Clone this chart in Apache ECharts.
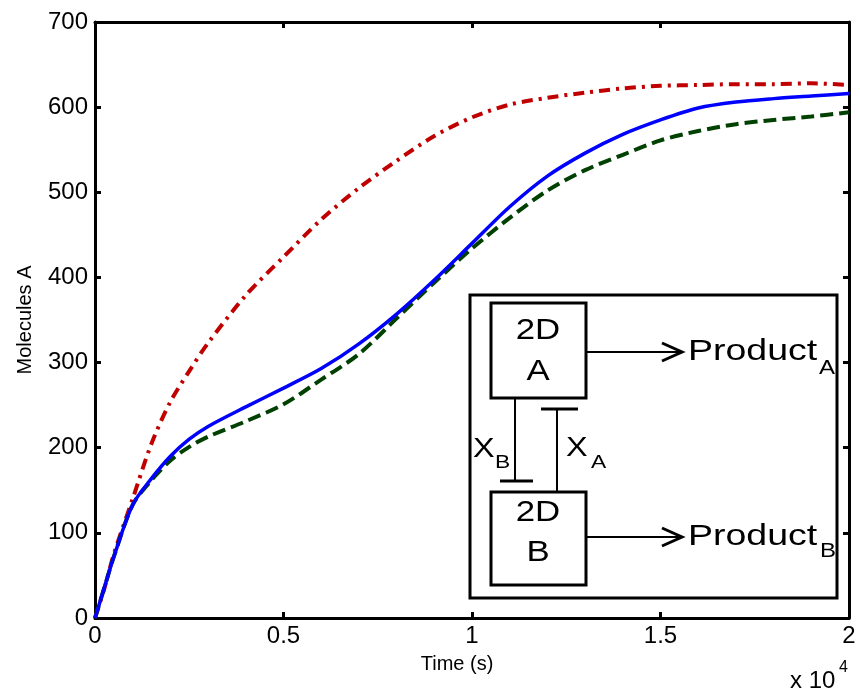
<!DOCTYPE html>
<html>
<head>
<meta charset="utf-8">
<script src="https://cdn.jsdelivr.net/npm/echarts@6/dist/echarts.min.js"></script>
<style>
  html, body { margin: 0; padding: 0; background: #fff; }
  #chart { width: 860px; height: 689px; }
</style>
</head>
<body>
<div id="chart"></div>
<script>
// time in seconds
const times = [0, 250, 500, 1000, 1500, 2000, 2500, 3000, 4000, 5000, 6000, 7000, 8000,
  9000, 10000, 11000, 12000, 13000, 14000, 15000, 16000, 17000, 18000, 19000, 20000];
const redVals = [0, 35, 75, 140, 205, 254, 290, 323, 379, 424, 468, 505, 537,
  566, 588, 603, 611, 617, 622, 625, 626, 627, 627, 628, 626];
const blueVals = [0, 36, 72, 133, 164, 190, 210, 225, 248, 270, 293, 322, 357,
  397, 440, 483, 519, 546, 568, 585, 599, 606, 610, 613, 616];
const greenVals = [0, 36, 72, 133, 162, 185, 201, 213, 231, 251, 280, 310, 352,
  394, 434, 470, 502, 526, 544, 561, 572, 580, 585, 589, 594];

const FONT = '"Liberation Sans", Arial, sans-serif';

function pairs(vals) {
  return times.map((t, i) => [t, vals[i]]);
}

const frameAxis = {
  axisLine: { show: true, onZero: false, lineStyle: { color: '#000', width: 3 } },
  axisTick: { show: true, inside: true, length: 6, lineStyle: { color: '#000', width: 3 } },
  splitLine: { show: false }
};

// inset diagram (glyphs in the inset are a bit wider than normal, hence scaleX)
function txt(x, y, s, size, align, sx) {
  return {
    type: 'text', x: x, y: y, z: 20, scaleX: sx || 1.2,
    style: { text: s, font: size + 'px ' + FONT, fill: '#000', align: align || 'center', verticalAlign: 'middle' }
  };
}
function seg(x1, y1, x2, y2, w) {
  return { type: 'line', z: 20, shape: { x1: x1, y1: y1, x2: x2, y2: y2 }, style: { stroke: '#000', lineWidth: w } };
}
function box(x, y, w, h, lw) {
  return { type: 'rect', z: 20, shape: { x: x, y: y, width: w, height: h }, style: { fill: '#fff', stroke: '#000', lineWidth: lw } };
}
function arrow(x1, x2, y) {
  return [
    seg(x1, y, x2, y, 2),
    { type: 'polyline', z: 20, shape: { points: [[x2 - 20, y - 9], [x2, y], [x2 - 20, y + 9]] }, style: { stroke: '#000', lineWidth: 3, fill: null } }
  ];
}

const inset = [
  box(470, 295, 367, 303, 3),
  box(491, 303, 95, 95, 3),
  box(491, 492, 95, 93, 3),
  txt(538, 331, '2D', 29), txt(538, 372, 'A', 29),
  txt(538, 513, '2D', 29), txt(538, 553, 'B', 29),
  ...arrow(586, 682, 352),
  ...arrow(586, 682, 537),
  txt(688, 352, 'Product', 30, 'left', 1.25),
  txt(819, 368, 'A', 20, 'left'),
  txt(688, 537, 'Product', 30, 'left', 1.25),
  txt(820, 551, 'B', 20, 'left'),
  // inhibition X_B : from A down to bar
  seg(515, 398, 515, 481, 2), seg(500, 481, 533, 481, 3),
  // inhibition X_A : from B up to bar
  seg(557, 492, 557, 409, 2), seg(541, 409, 578, 409, 3),
  txt(473, 450, 'X', 27, 'left'),
  txt(495, 463, 'B', 19, 'left'),
  txt(566, 449, 'X', 27, 'left'),
  txt(591, 463, 'A', 19, 'left'),
  // x 10^4
  { type: 'text', x: 790, y: 681, z: 20, style: { text: 'x 10', font: '24px ' + FONT, fill: '#000', align: 'left', verticalAlign: 'middle' } },
  { type: 'text', x: 839, y: 668, z: 20, style: { text: '4', font: '16px ' + FONT, fill: '#000', align: 'left', verticalAlign: 'middle' } }
];

const chart = echarts.init(document.getElementById('chart'));
chart.setOption({
  animation: false,
  backgroundColor: '#fff',
  grid: { left: 95, right: 11, top: 22, bottom: 71, containLabel: false },
  xAxis: [
    Object.assign({
      type: 'value', min: 0, max: 20000, interval: 5000, position: 'bottom',
      name: 'Time (s)', nameLocation: 'middle', nameGap: 36,
      nameTextStyle: { fontFamily: FONT, fontSize: 20, color: '#000', padding: [0, 30, 0, 0] },
      axisLabel: { fontFamily: FONT, fontSize: 24, color: '#000', margin: 6,
        formatter: v => String(v / 10000) }
    }, frameAxis),
    Object.assign({
      type: 'value', min: 0, max: 20000, interval: 5000, position: 'top',
      axisLabel: { show: false }
    }, frameAxis)
  ],
  yAxis: [
    Object.assign({
      type: 'value', min: 0, max: 700, interval: 100, position: 'left',
      name: 'Molecules A', nameLocation: 'middle', nameGap: 60, nameRotate: 90,
      nameTextStyle: { fontFamily: FONT, fontSize: 20, color: '#000' },
      axisLabel: { fontFamily: FONT, fontSize: 24, color: '#000', margin: 7 }
    }, frameAxis),
    Object.assign({
      type: 'value', min: 0, max: 700, interval: 100, position: 'right',
      axisLabel: { show: false }
    }, frameAxis)
  ],
  series: [
    {
      name: 'red', type: 'line', data: pairs(redVals), showSymbol: false, smooth: 0.3,
      lineStyle: { color: '#c00000', width: 4, type: [11, 6, 3, 6] }
    },
    {
      name: 'green', type: 'line', data: pairs(greenVals), showSymbol: false, smooth: 0.3,
      lineStyle: { color: '#004000', width: 4, type: [13, 6] }
    },
    {
      name: 'blue', type: 'line', data: pairs(blueVals), showSymbol: false, smooth: 0.3,
      lineStyle: { color: '#0000ff', width: 3.5 }
    }
  ],
  graphic: inset
});
</script>
</body>
</html>
